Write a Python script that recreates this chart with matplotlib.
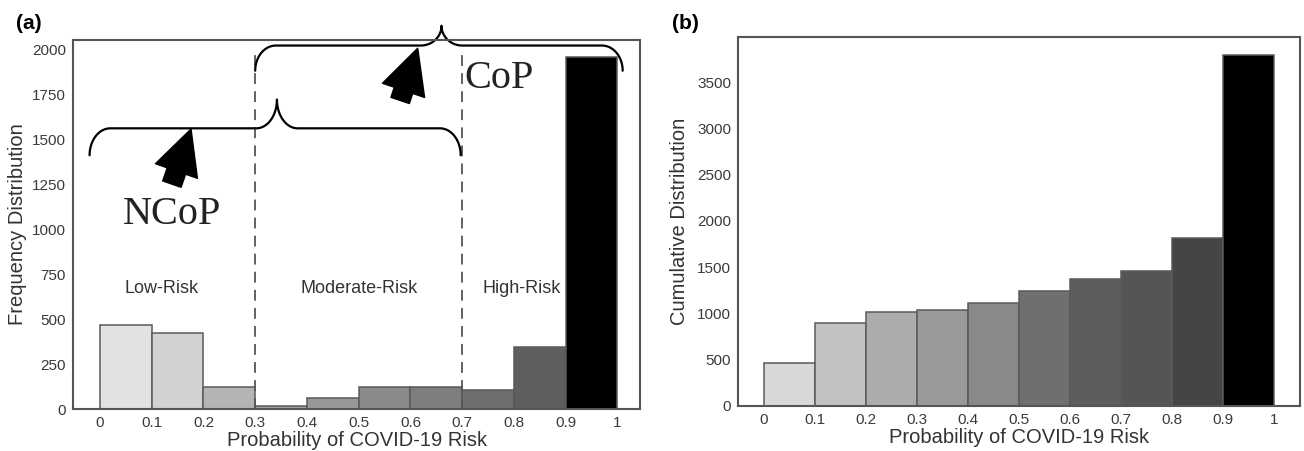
import numpy as np
from matplotlib import pyplot as plt

# bins 0-0.1 ... 0.9-1
edges = [0, 0.1, 0.2, 0.3, 0.4, 0.5, 0.6, 0.7, 0.8, 0.9, 1.0]
tick_labels = ['0', '0.1', '0.2', '0.3', '0.4', '0.5', '0.6', '0.7', '0.8', '0.9', '1']
freq = [467, 422, 122, 17, 61, 122, 125, 105, 345, 1955]
cum = [465, 895, 1015, 1037, 1110, 1240, 1370, 1458, 1815, 3800]
freq_colors = ['#e2e2e2', '#d2d2d2', '#b4b4b4', '#a4a4a4', '#989898',
               '#8a8a8a', '#7e7e7e', '#6e6e6e', '#5e5e5e', '#000000']
cum_colors = ['#d8d8d8', '#c2c2c2', '#acacac', '#999999', '#898989',
              '#6f6f6f', '#5d5d5d', '#555555', '#454545', '#000000']

plt.rcParams['font.family'] = ['Liberation Sans', 'DejaVu Sans']

fig = plt.figure(figsize=(13.04, 4.51), dpi=100)
ax1 = fig.add_axes([0.056, 0.093, 0.435, 0.818])
ax2 = fig.add_axes([0.566, 0.100, 0.431, 0.818])

left = edges[:-1]
for ax, vals, cols in [(ax1, freq, freq_colors), (ax2, cum, cum_colors)]:
    ax.bar(left, vals, width=0.1, align='edge', color=cols,
           edgecolor='#5a5a5a', linewidth=1.1)
    ax.set_xticks(edges)
    ax.set_xticklabels(tick_labels)
    ax.tick_params(length=0, labelsize=11, labelcolor='#3a3a3a', pad=5)
    for s in ax.spines.values():
        s.set_color('#555555')
        s.set_linewidth(1.5)
    ax.set_xlabel('Probability of COVID-19 Risk', fontsize=14.5, color='#333333', labelpad=1)

ax1.set_xlim(-0.052, 1.044)
ax1.set_ylim(0, 2050)
ax1.set_yticks(range(0, 2001, 250))
ax1.set_ylabel('Frequency Distribution', fontsize=14.5, color='#333333', labelpad=4)

ax2.set_xlim(-0.051, 1.051)
ax2.set_ylim(0, 3990)
ax2.set_yticks(range(0, 3501, 500))
ax2.set_ylabel('Cumulative Distribution', fontsize=14.5, color='#333333', labelpad=6)

fig.text(0.012, 0.935, '(a)', fontsize=15, fontweight='bold')
fig.text(0.515, 0.935, '(b)', fontsize=15, fontweight='bold')

# risk zones
for xv in [0.3, 0.7]:
    ax1.plot([xv, xv], [0, 1990], ls=(0, (6, 4)), color='#555555', lw=1.3)
ax1.text(0.12, 670, 'Low-Risk', ha='center', va='center', fontsize=13, color='#333333')
ax1.text(0.50, 670, 'Moderate-Risk', ha='center', va='center', fontsize=13, color='#333333')
ax1.text(0.815, 670, 'High-Risk', ha='center', va='center', fontsize=13, color='#333333')


def brace(ax, x0, x1, xm, y_line, y_end, y_peak, rx):
    t = np.linspace(0, np.pi / 2, 30)
    ry1 = y_line - y_end
    ry2 = y_peak - y_line
    xs, ys = [], []
    # left tip
    xs += list(x0 + rx - rx * np.cos(t)); ys += list(y_end + ry1 * np.sin(t))
    # up to the middle peak
    xs += list(xm - rx + rx * np.sin(t)); ys += list(y_peak - ry2 * np.cos(t))
    xs += list(xm + rx - rx * np.cos(t)); ys += list(y_peak - ry2 * np.sin(t))
    # right tip
    xs += list(x1 - rx + rx * np.sin(t)); ys += list(y_line - ry1 * (1 - np.cos(t)))
    ax.plot(xs, ys, color='black', lw=1.6, clip_on=False, solid_capstyle='round')


brace(ax1, -0.02, 0.697, 0.342, 1560, 1410, 1720, 0.04)
brace(ax1, 0.30, 1.01, 0.66, 2020, 1880, 2130, 0.04)

arrow = dict(arrowstyle='simple,head_length=3.2,head_width=3.2,tail_width=1.4',
             mutation_scale=10, fc='black', ec='black', shrinkA=0, shrinkB=0)
ax1.annotate('', xy=(0.176, 1556), xytext=(0.139, 1250), arrowprops=arrow)
ax1.annotate('', xy=(0.614, 2005), xytext=(0.58, 1715), arrowprops=arrow, annotation_clip=False)

ax1.text(0.14, 1080, 'NCoP', ha='center', va='center', fontsize=29,
         family=['Liberation Serif', 'DejaVu Serif'], color='#222222')
ax1.text(0.705, 1835, 'CoP', ha='left', va='center', fontsize=29,
         family=['Liberation Serif', 'DejaVu Serif'], color='#222222')

plt.savefig('out.png', dpi=100)
